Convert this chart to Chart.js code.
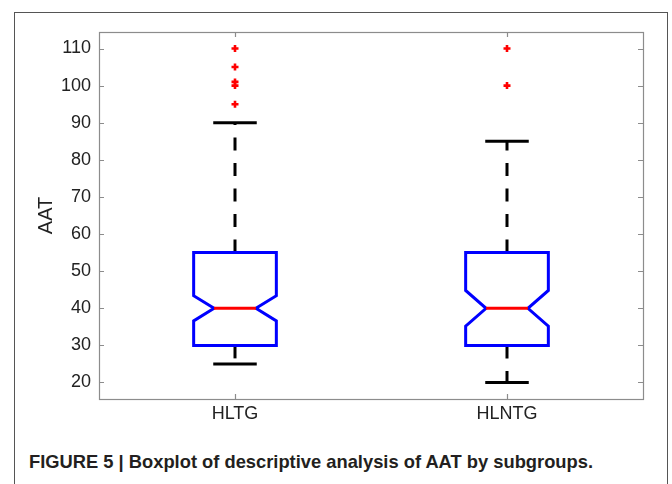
<!DOCTYPE html>
<html>
<head>
<meta charset="utf-8">
<script src="https://cdn.jsdelivr.net/npm/chart.js@4.4.1/dist/chart.umd.min.js"></script>
<style>
  body { margin: 0; background: #fff; width: 672px; height: 484px; overflow: hidden; position: relative; }
  #frame { position: absolute; left: 14px; top: 12px; width: 654px; height: 490px; border: 1.3px solid #555; box-sizing: border-box; }
  #chart { position: absolute; left: 0; top: 0; }
  #caption { position: absolute; left: 29px; top: 451px; font: bold 18.5px "Liberation Sans", Arial, sans-serif; color: #231f20; white-space: nowrap; transform-origin: 0 0; }
</style>
</head>
<body>
<div id="frame"></div>
<canvas id="chart" width="672" height="430"></canvas>
<div id="caption">FIGURE 5 | Boxplot of descriptive analysis of AAT by subgroups.</div>
<script>
// Boxplot data
const categories = ['HLTG', 'HLNTG'];
const q1 = [30, 30];
const q3 = [55, 55];
const medians = [40, 40];
const notchLow = [36.6, 35.2];
const notchHigh = [43.4, 44.8];
const whiskerLow = [25, 20];
const whiskerHigh = [90, 85];
const outliers = [[95, 100, 101, 105, 110], [100, 110]];
const yTicks = [20, 30, 40, 50, 60, 70, 80, 90, 100, 110];

// box geometry in x-axis units
const boxHalf = 0.152;
const notchHalf = 0.077;
const capHalf = 0.08;

const datasets = [];
const lineDefaults = { showLine: true, pointRadius: 0, fill: false, borderJoinStyle: 'miter' };

categories.forEach(function(cat, i) {
    const x = i + 1;
    // notched box outline
    datasets.push(Object.assign({}, lineDefaults, {
        data: [
            {x: x - boxHalf, y: q3[i]}, {x: x + boxHalf, y: q3[i]},
            {x: x + boxHalf, y: notchHigh[i]}, {x: x + notchHalf, y: medians[i]},
            {x: x + boxHalf, y: notchLow[i]}, {x: x + boxHalf, y: q1[i]},
            {x: x - boxHalf, y: q1[i]}, {x: x - boxHalf, y: notchLow[i]},
            {x: x - notchHalf, y: medians[i]}, {x: x - boxHalf, y: notchHigh[i]},
            {x: x - boxHalf, y: q3[i]}, {x: x + boxHalf, y: q3[i]}
        ],
        borderColor: '#0000ff', borderWidth: 3, order: 2
    }));
    // median
    datasets.push(Object.assign({}, lineDefaults, {
        data: [{x: x - notchHalf, y: medians[i]}, {x: x + notchHalf, y: medians[i]}],
        borderColor: '#ff0000', borderWidth: 3, order: 1
    }));
    // whiskers (dashed, drawn from the box outwards)
    datasets.push(Object.assign({}, lineDefaults, {
        data: [{x: x, y: q3[i]}, {x: x, y: whiskerHigh[i]}],
        borderColor: '#000', borderWidth: 3, borderDash: [13, 12.5], order: 3
    }));
    datasets.push(Object.assign({}, lineDefaults, {
        data: [{x: x, y: q1[i]}, {x: x, y: whiskerLow[i]}],
        borderColor: '#000', borderWidth: 3, borderDash: [13, 12.5], order: 3
    }));
    // caps
    datasets.push(Object.assign({}, lineDefaults, {
        data: [{x: x - capHalf, y: whiskerHigh[i]}, {x: x + capHalf, y: whiskerHigh[i]}],
        borderColor: '#000', borderWidth: 3, borderCapStyle: 'butt', order: 3
    }));
    datasets.push(Object.assign({}, lineDefaults, {
        data: [{x: x - capHalf, y: whiskerLow[i]}, {x: x + capHalf, y: whiskerLow[i]}],
        borderColor: '#000', borderWidth: 3, borderCapStyle: 'butt', order: 3
    }));
    // outliers
    datasets.push({
        data: outliers[i].map(function(v) { return {x: x, y: v}; }),
        showLine: false, pointStyle: 'cross', pointRadius: 3.5, pointBorderWidth: 2.6,
        pointBorderColor: '#ff0000', pointBackgroundColor: '#ff0000', order: 0
    });
});

// MATLAB-like box around the axes with inward tick marks
const matlabAxes = {
    id: 'matlabAxes',
    beforeDatasetsDraw(chart) {
        const ctx = chart.ctx;
        const a = chart.chartArea;
        const xs = chart.scales.x, ys = chart.scales.y;
        ctx.save();
        ctx.strokeStyle = '#8c8c8c';
        ctx.lineWidth = 1.2;
        ctx.strokeRect(a.left + 0.5, a.top + 0.5, a.right - a.left, a.bottom - a.top);
        ctx.beginPath();
        yTicks.forEach(function(v) {
            const py = Math.round(ys.getPixelForValue(v)) + 0.5;
            ctx.moveTo(a.left, py); ctx.lineTo(a.left + 5, py);
            ctx.moveTo(a.right, py); ctx.lineTo(a.right - 5, py);
        });
        categories.forEach(function(c, i) {
            const px = Math.round(xs.getPixelForValue(i + 1)) + 0.5;
            ctx.moveTo(px, a.bottom); ctx.lineTo(px, a.bottom - 5);
            ctx.moveTo(px, a.top); ctx.lineTo(px, a.top + 5);
        });
        ctx.stroke();
        ctx.restore();
    }
};

const tickFont = { family: '"Liberation Sans", Arial, sans-serif', size: 18 };

new Chart(document.getElementById('chart'), {
    type: 'scatter',
    data: { datasets: datasets },
    options: {
        responsive: false,
        animation: false,
        events: [],
        layout: { padding: { left: 0, top: 32, right: 29, bottom: 0 } },
        plugins: { legend: { display: false }, tooltip: { enabled: false } },
        scales: {
            x: {
                type: 'linear',
                min: 0.5,
                max: 2.5,
                grid: { display: false, drawTicks: false },
                border: { display: false },
                afterBuildTicks: function(scale) {
                    scale.ticks = categories.map(function(c, i) { return {value: i + 1}; });
                },
                afterFit: function(scale) { scale.height = 31; },
                ticks: {
                    font: tickFont,
                    color: '#222',
                    padding: 4,
                    maxRotation: 0,
                    callback: function(v) { return categories[v - 1]; }
                }
            },
            y: {
                min: 15.55,
                max: 114.45,
                grid: { display: false, drawTicks: false },
                border: { display: false },
                afterBuildTicks: function(scale) {
                    scale.ticks = yTicks.map(function(v) { return {value: v}; });
                },
                afterFit: function(scale) { scale.width = 99; },
                ticks: { font: tickFont, color: '#222', padding: 8 },
                title: {
                    display: true,
                    text: 'AAT',
                    color: '#222',
                    font: { family: '"Liberation Sans", Arial, sans-serif', size: 20 },
                    padding: { top: 34 }
                }
            }
        }
    },
    plugins: [matlabAxes]
});

// squeeze the caption to the width it has in the figure
const cap = document.getElementById('caption');
const w = cap.getBoundingClientRect().width;
cap.style.transform = 'scaleX(' + (564 / w) + ')';
</script>
</body>
</html>
